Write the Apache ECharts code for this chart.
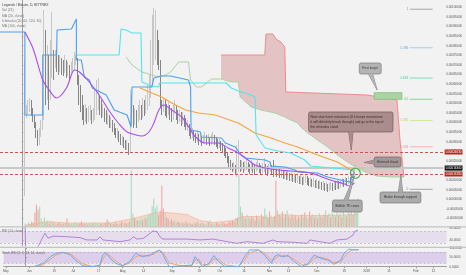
<!DOCTYPE html>
<html><head><meta charset="utf-8">
<script src="https://cdn.jsdelivr.net/npm/echarts@6/dist/echarts.min.js"></script>
<style>html,body{margin:0;padding:0;background:#f2f2f2;overflow:hidden}#c{width:466px;height:275px}</style>
</head><body><div id="c"></div>
<script>
// ---------- DATA (prices in satoshi = 1e-8 BTC; day 0 = 1 Jun 2017) ----------
const firstDay = 2;
const firstOpen = 38000;
const closes = [
43900,45470,47550,50150,46510,42340,38690,33490,29320,33490,
37130,42340,77750,56920,64730,54320,67340,72550,69940,73590,
71500,69420,70980,68380,67340,69420,66300,67340,65260,68380,
69940,72550,73590,64730,54320,51720,46510,43380,45470,42340,
44420,45470,42340,43900,46510,49110,52760,47550,45470,46510,
43380,41300,42340,39220,40260,37130,35050,33490,34530,31920,
30360,30880,29320,27760,28280,25680,42340,45470,41300,43380,
41300,43900,45470,43900,47550,46510,49630,51720,53800,62130,
72550,80360,82960,75150,71500,49110,47550,49630,46510,45470,
47550,44950,42860,45470,47550,44420,42340,43380,41300,42340,
40260,38170,38690,35050,33490,34530,32450,30880,31920,30360,
31400,29840,30880,31920,30360,31400,29840,30880,31920,30360,
29320,28280,28800,27240,25680,24630,22550,20470,18380,16820,
15260,16300,14220,15260,17860,16300,17340,15780,16820,17860,
16300,15260,16820,15780,14740,16300,17340,15780,14740,15780,
16820,15260,14220,15260,16300,14740,13700,14740,13700,14220,
12660,13180,12130,12660,11610,12130,11090,11610,10570,11090,
10050,10570,9530,10050,9010,9530,10570,9530,8490,9010,
7970,8490,7450,7970,6930,7450,6410,6930,5890,6410,
5360,5890,6410,5890,6930,6410,7450,6930,7970,9010,
8490,9530,9010,10050,9530,11090,12660,16300];
const highs = [
72550,49110,51720,52760,51720,47550,43900,40260,36090,37130,
41300,46510,98590,88170,80360,75150,82960,97550,77750,77750,
77750,75150,75150,73590,72550,75150,72550,71500,69940,71500,
73590,76710,75150,73590,64730,59530,54320,49110,49630,47550,
48590,49110,46510,47550,56920,62130,63170,54320,51720,49630,
47550,46510,44950,43900,42860,41300,39740,37130,37130,35570,
34010,32970,32450,30880,30880,29320,56920,54320,49110,47550,
46510,49110,51720,49110,52760,51720,54320,59530,64730,82960,
95980,99630,98590,88170,82960,72550,51720,52760,51720,49630,
50670,49110,47550,49110,51720,48590,46510,46510,45470,45470,
43900,42340,41300,39220,37130,37130,35570,34530,36090,34010,
34530,32970,33490,35050,33490,34010,32450,34010,35050,33490,
32450,31400,31400,30360,29320,27760,26720,24630,22550,20470,
18910,19430,17860,28280,30880,20470,20470,19430,19950,21510,
19430,18380,20470,18910,17860,19430,20470,18910,17860,18910,
21510,18380,17340,18380,19430,17860,20470,17860,16820,16820,
15780,15780,15260,15260,14220,14740,13700,14220,13180,13700,
12660,13180,12130,12660,11610,12130,13180,12130,11090,11610,
10570,11090,10050,10570,9530,10050,9010,9530,8490,9010,
7970,8490,9010,8490,9530,9010,10050,9530,10570,11090,
10570,11610,11090,12130,11610,13700,15260,17860];
const lows = [
1720,42340,43900,45470,43380,40260,37130,31920,27760,28280,
32450,36090,41300,49110,51720,46510,51720,63170,62130,68380,
66300,64730,66300,64730,64210,65780,63170,64210,62130,64730,
66300,67340,69940,59530,49110,45470,41300,38690,40260,39220,
40260,41300,39220,40260,41300,43900,46510,43900,42340,42860,
40260,39220,38690,37130,37130,35050,33490,31920,30880,29840,
28280,27760,26720,25680,25680,23070,24630,38690,37130,38690,
37130,40260,41300,41300,42340,43380,44420,46510,48590,52760,
59530,69940,72550,69940,67340,47550,43900,45470,43380,42340,
43900,41300,40260,41300,44420,41300,39220,40260,38170,39220,
37650,36090,35570,32970,31400,31920,30360,29320,29840,28280,
29320,27760,28800,29320,28280,28800,27760,28280,29840,28280,
27240,26200,26720,25150,24110,22550,21510,18910,16820,15260,
14220,14740,13180,11610,14220,14220,14740,13700,14740,15260,
14220,13180,14740,13700,12660,14220,15260,13700,12660,13700,
14220,13180,12130,13180,14220,12660,11610,12660,11610,12130,
11090,11090,10570,10570,10050,10050,9530,9530,9010,9010,
8490,8490,7970,7970,7450,7450,8490,7450,6930,6930,
6410,6410,5890,5890,5360,5360,4840,4840,4320,4320,
3800,4320,4840,4320,4840,4840,5360,5360,5890,6930,
6410,7450,6930,7970,7450,8490,10050,11610];
const volumes = [
3,2,4,3,5,4,14,22,17,20,8,5,9,
4,6,3,5,3,4,2,3,4,3,2,3,3,8,
3,2,3,2,4,3,2,3,5,3,2,3,
2,3,2,3,2,4,3,2,3,2,3,4,7,5,3,
3,2,4,3,2,3,5,3,4,3,4,5,56,
13,9,7,6,6,8,6,9,8,10,12,13,20,28,18,21,12,16,41,
18,14,9,8,6,7,5,6,4,5,4,
3,4,3,5,3,4,3,2,4,3,5,3,
3,4,3,2,3,4,6,3,2,3,4,3,
2,3,4,3,2,3,5,4,6,5,8,9,52,
20,14,10,8,12,9,7,10,8,6,11,9,7,12,10,18,12,9,15,11,8,10,46,
16,12,10,15,9,12,16,10,8,12,9,11,7,10,8,12,9,14,10,8,15,10,12,9,11,8,13,10,9,12,16,11,13,9,17,12,10,14,11,13,9,15,12,10,14,13,16,12,18,15,28];
const volMa = [[1.9,1],[16.2,5],[28,3.5],[54.8,3.5],[69.1,8],[84,14],[90.2,14],[102.7,12],[110.8,6],[118.9,4],[131.3,6],[137.5,10],[148.1,10],[154.3,8],[160.6,12],[173,11],[191.7,11],[209.1,12]];
const ma20 = [[1.9,87130],[6.9,78800],[13.1,62130],[16.2,57970],[21.8,52760],[28.0,57970],[33.0,67340],[36.1,66300],[42.3,61090],[48.5,54320],[54.8,45990],[61.0,39220],[66.0,35050],[71.6,33490],[75.3,32970],[79.7,35050],[82.8,39740],[85.9,46510],[89.0,49110],[94.0,46510],[100.2,42860],[104.6,37650],[108.9,32450],[115.1,29320],[123.2,29320],[129.4,26720],[135.7,24110],[141.9,20470],[146.2,17860],[152.5,16300],[160.6,15260],[168.6,14740],[181.1,13700],[193.5,10050],[202.3,7970],[205.4,6930],[208.5,8490]];
const ma100 = [[74.1,57970],[81.5,55360],[87.7,53280],[94.0,50150],[102.7,46510],[110.8,44950],[121.3,43900],[135.7,39740],[146.2,34530],[156.2,31920],[164.9,29320],[173.0,27240],[185.4,23070],[197.9,19430],[208.5,14220]];
const tenkan = [[-13.7,87130],[1.9,87130],[1.9,43900],[13.1,43900],[13.1,75150],[21.8,75150],[22.1,88170],[31.1,88690],[34.2,93900],[34.2,72550],[37.3,72550],[39.2,63690],[42.3,62130],[44.2,57970],[52.9,54320],[57.9,46510],[66.0,43900],[68.5,37650],[69.1,37650],[69.1,58490],[81.5,58490],[82.8,63170],[87.1,64210],[93.3,64210],[94.0,63170],[104.5,62130],[105.8,58490],[106.1,36090],[112.0,35050],[112.6,32450],[125.1,31920],[127.6,29320],[133.8,27240],[137.5,23070],[140.0,21510],[152.5,20470],[155.6,19430],[156.2,17340],[164.9,16820],[171.1,15260],[173.0,14220],[185.4,13700],[191.7,11610],[199.8,10050],[205.4,9010],[207.2,11610],[208.5,14220]];
const kijun = [[34.2,75150],[61.0,75150],[62.2,88690],[65.3,88170],[69.1,86610],[74.7,86610],[75.3,61090],[81.5,59010],[85.9,58490],[86.2,60570],[128.2,60570],[131.3,57970],[135.7,56400],[143.8,54320],[146.2,53280],[146.9,33490],[152.5,26720],[160.6,25150],[168.6,24110],[177.4,20470],[181.1,17340],[208.5,15260]];
const senkouB = [[65.3,74110],[69.1,69940],[75.3,66300],[81.5,64730],[85.9,63690],[90.2,64730],[93.3,66300],[98.3,71500],[104.5,71500],[105.8,62130],[109.5,58490],[112.6,58490],[118.9,62650],[124.9,62650],[131.3,61090],[135.7,61090],[136.9,53280],[143.8,48070],[150.0,46510],[158.7,44950],[164.9,42860],[168.6,41300],[173.0,39740],[174.9,37650],[179.2,34530],[185.4,30880],[191.7,27240],[197.9,23070],[204.1,19430],[210.3,16300],[216.6,13700],[222.8,12130],[232.1,11610],[239.6,11610]];
const senkouA = [[124.9,75150],[152.3,75150],[153.1,86090],[157.4,86090],[159.3,83490],[162.4,81930],[164.9,79320],[165.5,55880],[216.6,54320],[235.2,51720],[237.1,30880],[239.6,11610]];
const rsi = [[1.9,100],[2.3,0],[5,4],[8,9],[10,17],[13.1,51],[14.3,63],[16.2,46],[19.3,53],[28,51],[36.1,48],[40.4,40],[46.7,40],[48.5,51],[50.4,40],[61,34],[67.2,40],[69.1,51],[71.6,43],[75.3,45],[78.4,57],[81.5,71],[84,68],[85.9,51],[87.7,43],[102.7,43],[110.8,40],[118.9,43],[127.6,34],[133.8,28.5],[140,34],[150,28.5],[156.2,40],[158.7,34],[168.6,32],[177.4,28.5],[179.2,40],[185.4,34],[191.7,28.5],[196,40],[202.3,43],[206,57],[207.2,70],[209.1,74]];
const stochK = [[5,0],[11.2,18],[15.6,54],[19.3,73],[23.6,78],[28,65],[31.7,33],[36.1,5],[42.3,0],[46.7,9],[48.5,65],[50.4,78],[52.9,47],[56.6,18],[61,5],[65.3,27],[69.1,73],[73.4,54],[77.8,63],[81.5,81],[84,91],[85.9,73],[89,18],[90.2,0],[98.3,5],[104.5,9],[106.4,54],[108.9,27],[110.8,0],[115.1,18],[118.2,60],[121.3,27],[125.1,0],[133.8,0],[137.5,54],[140.6,91],[146.2,91],[150,63],[154.3,18],[156.2,54],[158.7,67],[160.6,54],[164.9,60],[168.6,27],[173,0],[177.4,18],[181.1,63],[185.4,45],[189.8,36],[193.5,13],[197.9,36],[199.8,72],[202.9,96],[206,91],[209.1,91]];
const stochD = [[5,0],[11.2,10],[15.6,40],[19.3,64],[23.6,77],[28,72],[31.7,45],[36.1,15],[42.3,2],[46.7,5],[48.5,40],[50.4,68],[52.9,62],[56.6,30],[61,8],[65.3,18],[69.1,55],[73.4,62],[77.8,58],[81.5,74],[84,86],[85.9,82],[89,40],[90.2,20],[98.3,4],[104.5,6],[106.4,35],[108.9,40],[110.8,12],[115.1,10],[118.2,42],[121.3,40],[125.1,10],[133.8,0],[137.5,35],[140.6,75],[146.2,90],[150,75],[154.3,35],[156.2,40],[158.7,58],[160.6,60],[164.9,58],[168.6,40],[173,10],[177.4,10],[181.1,45],[185.4,52],[189.8,40],[193.5,22],[197.9,25],[199.8,50],[202.9,82],[206,93],[209.1,92]];
const fibLevels = [1, 0.786, 0.618, 0.5, 0.382, 0.236, 0];
const fibNames = ['1','0.786','0.618','0.5','0.382','0.236','0'];
const fibLow = 5200, fibHigh = 99000, fibStartDay = 243.3, fibEndDay = 257.6;
const targetBox = [[220.9,55520],[238.3,52080]];
const resistanceLevel = 24630, supportLevel = 13180, lastPrice = 16300;
const priceTicks = [100000,95000,90000,85000,80000,75000,70000,65000,60000,55000,50000,45000,40000,35000,30000,25000,20000,15000,10000,5000,0,-5000,-10000];
const tickDays = [-12.3,2.5,18,30,46,61,74,92,109,122,137,153,165,183,200,214,228,245,256];
const tickNames = ['May','Jun','19','Jul','17','Aug','14','Sep','18','Oct','16','Nov','13','Dec','18','2018','15','Feb','12'];

// ---------- CHART ----------
const FONT = '"Liberation Sans", Arial, sans-serif';
const X_MIN = -13.69, X_MAX = 264.17;
const fibLine = ['#a6a6a6','#a9cbe6','#7fdcbc','#8fd18f','#d2e89a','#f2b0b0','#a6a6a6'];
const fibText = ['#8d8d8d','#5fa8e0','#3fcf98','#5cbf5c','#b3d36a','#ee8e8e','#8d8d8d'];
const fmtPrice = v => (v/1e8).toFixed(8);

const opens = closes.map((c,i)=> i===0 ? firstOpen : closes[i-1]);
const candleData = closes.map((c,i)=>[firstDay+i, opens[i], c, lows[i], highs[i]]);
const volData = volumes.map((v,i)=>({value:[firstDay+i, v], itemStyle:{color: closes[i]>=opens[i] ? '#a9dcc0' : '#f2a6a2'}}));
const cloudPoly = senkouA.concat(senkouB.filter(p=>p[0]>=124.9).reverse());

const chart = echarts.init(document.getElementById('c'), null, {renderer:'canvas', width:466, height:275});
const xAx = (gi, show) => ({type:'value', gridIndex:gi, min:X_MIN, max:X_MAX, show:show, splitLine:{show:false}});
const lbl = {fontSize:3, color:'#555', fontFamily:FONT, margin:3};
const option = {
  animation:false,
  backgroundColor:'#f2f2f2',
  grid:[
    {left:0, right:19.5, top:0, height:226.5},
    {left:0, right:19.5, top:146.5, height:80},
    {left:0, right:19.5, top:227, height:19},
    {left:0, right:19.5, top:248.3, height:18.4}
  ],
  xAxis:[
    xAx(0,false), xAx(1,false), xAx(2,false),
    Object.assign(xAx(3,true), {
      axisLine:{lineStyle:{color:'#9e9e9e', width:1}},
      axisTick:{show:true, length:1.5, customValues:tickDays, lineStyle:{color:'#9e9e9e'}},
      axisLabel:Object.assign({}, lbl, {margin:3, customValues:tickDays, hideOverlap:false,
        formatter:v=>{const i=tickDays.findIndex(t=>Math.abs(t-v)<1e-6); return i>=0?tickNames[i]:'';}})
    })
  ],
  yAxis:[
    {type:'value', gridIndex:0, position:'right', min:-14170, max:103800, splitLine:{show:false},
     axisLine:{show:true, lineStyle:{color:'#9e9e9e'}},
     axisTick:{show:true, length:1.5, customValues:priceTicks, lineStyle:{color:'#9e9e9e'}},
     axisLabel:Object.assign({}, lbl, {customValues:priceTicks, formatter:fmtPrice})},
    {type:'value', gridIndex:1, min:0, max:80, show:false, splitLine:{show:false}},
    {type:'value', gridIndex:2, position:'right', min:19.3, max:84.27, splitLine:{show:false},
     axisLine:{show:true, lineStyle:{color:'#9e9e9e'}},
     axisTick:{show:true, length:1.5, customValues:[40,80], lineStyle:{color:'#9e9e9e'}},
     axisLabel:Object.assign({}, lbl, {customValues:[40,80], formatter:v=>v.toFixed(4)})},
    {type:'value', gridIndex:3, position:'right', min:0, max:100, splitLine:{show:false},
     axisLine:{show:true, lineStyle:{color:'#9e9e9e'}},
     axisTick:{show:true, length:1.5, customValues:[0,50,100], lineStyle:{color:'#9e9e9e'}},
     axisLabel:Object.assign({}, lbl, {customValues:[0,50,100], formatter:v=>v.toFixed(4)})}
  ],
  series:[
    {type:'custom', xAxisIndex:0, yAxisIndex:0, z:1, silent:true, data:[senkouA[0]],
     renderItem:(p,api)=>({type:'polygon', shape:{points:cloudPoly.map(q=>api.coord(q))}, style:{fill:'rgba(200,110,110,0.35)'}})},
    {type:'bar', xAxisIndex:1, yAxisIndex:1, z:2, barWidth:1.1, data:volData, silent:true},
    {type:'line', xAxisIndex:1, yAxisIndex:1, z:2, data:volMa, symbol:'none', silent:true,
     lineStyle:{color:'#f2b08f', width:0.6}, areaStyle:{color:'rgba(245,160,120,0.45)'}},
    {type:'candlestick', xAxisIndex:0, yAxisIndex:0, z:3, barWidth:1.2, data:candleData,
     encode:{x:0, y:[1,2,3,4]}, silent:true,
     itemStyle:{color:'#d2d2d2', color0:'#3a3a3a', borderColor:'#a9a9a9', borderColor0:'#3a3a3a', borderWidth:0.6},
     markLine:{symbol:['none','none'], silent:true, animation:false, precision:8,
      data:[
        {yAxis:resistanceLevel, lineStyle:{color:'#c9564f', type:[3,2], width:1.1},
         label:{show:true, position:'end', distance:1.5, formatter:fmtPrice(resistanceLevel), backgroundColor:'#b3261e', color:'#fff', fontSize:3, fontFamily:FONT, padding:[1,1]}},
        {yAxis:lastPrice, lineStyle:{color:'#c8c8c8', type:'solid', width:2},
         label:{show:true, position:'end', distance:1.5, formatter:fmtPrice(lastPrice), backgroundColor:'#111', color:'#fff', fontSize:3, fontFamily:FONT, padding:[1,1]}},
        {yAxis:supportLevel, lineStyle:{color:'#c9564f', type:[3,2], width:1.1},
         label:{show:true, position:'end', distance:1.5, formatter:fmtPrice(supportLevel), backgroundColor:'#b3261e', color:'#fff', fontSize:3, fontFamily:FONT, padding:[1,1]}}
      ]}},
    {type:'line', xAxisIndex:0, yAxisIndex:0, z:4, data:senkouB, symbol:'none', silent:true, lineStyle:{color:'#a9d3a3', width:1}},
    {type:'line', xAxisIndex:0, yAxisIndex:0, z:4, data:senkouA, symbol:'none', silent:true, lineStyle:{color:'#ee8c8c', width:1}},
    {type:'line', xAxisIndex:0, yAxisIndex:0, z:5, data:ma100, symbol:'none', silent:true, lineStyle:{color:'#f5a53a', width:1.1}},
    {type:'line', xAxisIndex:0, yAxisIndex:0, z:5, data:kijun, symbol:'none', silent:true, lineStyle:{color:'#55e3ee', width:1.1}},
    {type:'line', xAxisIndex:0, yAxisIndex:0, z:5, data:tenkan, symbol:'none', silent:true, lineStyle:{color:'#4aa0f0', width:1.1}},
    {type:'line', xAxisIndex:0, yAxisIndex:0, z:5, data:ma20, symbol:'none', silent:true, smooth:0.3, lineStyle:{color:'#a94cf2', width:1.1}},
    {type:'custom', xAxisIndex:0, yAxisIndex:0, z:6, silent:true,
     data:fibLevels.map((f,i)=>[fibStartDay, fibLow + f*(fibHigh-fibLow)]),
     renderItem:(params, api)=>{
       const i = params.dataIndex, price = api.value(1);
       const p1 = api.coord([fibStartDay, price]), p2 = api.coord([fibEndDay, price]);
       return {type:'group', children:[
         {type:'line', shape:{x1:p1[0], y1:p1[1], x2:p2[0], y2:p2[1]}, style:{stroke:fibLine[i], lineWidth:1}},
         {type:'text', style:{text:fibNames[i], x:p1[0]-1.5, y:p1[1], fill:fibText[i], font:'3.2px '+FONT, align:'right', verticalAlign:'middle', textAlign:'right', textVerticalAlign:'middle'}}
       ]};
     }},
    {type:'custom', xAxisIndex:0, yAxisIndex:0, z:6, silent:true, data:[targetBox[0]],
     renderItem:(p,api)=>{const a=api.coord(targetBox[0]), b=api.coord(targetBox[1]);
       return {type:'rect', shape:{x:a[0], y:a[1], width:b[0]-a[0], height:b[1]-a[1]}, style:{fill:'#a8d5a2', stroke:'#86bd80', lineWidth:0.8}};}},
    {type:'line', xAxisIndex:2, yAxisIndex:2, z:5, data:rsi, symbol:'none', silent:true, lineStyle:{color:'#a66ad0', width:0.8},
     markArea:{silent:true, itemStyle:{color:'rgba(170,120,210,0.16)'}, data:[[{yAxis:30},{yAxis:70}]]},
     markLine:{symbol:['none','none'], silent:true, label:{show:false}, lineStyle:{color:'#b0a6b8', type:[2,2], width:0.6}, data:[{yAxis:70},{yAxis:30}]}},
    {type:'line', xAxisIndex:3, yAxisIndex:3, z:5, data:stochD, symbol:'none', silent:true, lineStyle:{color:'#f5a060', width:0.9},
     markArea:{silent:true, itemStyle:{color:'rgba(160,100,215,0.25)'}, data:[[{yAxis:20},{yAxis:80}]]},
     markLine:{symbol:['none','none'], silent:true, label:{show:false}, lineStyle:{color:'#a99bb8', type:[2,2], width:0.6}, data:[{yAxis:80},{yAxis:20}]}},
    {type:'line', xAxisIndex:3, yAxisIndex:3, z:6, data:stochK, symbol:'none', silent:true, lineStyle:{color:'#5aa8f2', width:0.9}}
  ]
};
chart.setOption(option);

// ---------- annotations (anchored in data coordinates) ----------
const callouts = [
  {box:[[211.6,70980],[225.3,65260]], tip:[222.8,56920], side:'bottom', at:0.5, fill:'#b4b4b4', stroke:'#7b7b7b', color:'#3a3a3a', align:'center', lines:['First target']},
  {box:[[179.8,45470],[232.7,35050]], tip:[206.6,25680], side:'bottom', at:0.5, fill:'#ab8c8c', stroke:'#6e5656', color:'#3c2c2c', align:'left',
   lines:['Next short term resistance (If it keeps momentum','it will definitely break through) and go to the top of','the ichimoku cloud']},
  {box:[[220.9,22030],[237.7,16820]], tip:[214.7,19170], side:'left', at:0.5, fill:'#a49696', stroke:'#6f6464', color:'#3a3030', align:'center', lines:['Entered cloud']},
  {box:[[194.8,-360],[213.4,-6610]], tip:[208.5,12130], side:'top', at:0.45, fill:'#ababab', stroke:'#777', color:'#333', align:'center', lines:['Bullish TK cross']},
  {box:[[224.6,3800],[250.2,-1930]], tip:[237.7,12660], side:'top', at:0.5, fill:'#ababab', stroke:'#777', color:'#333', align:'center', lines:['Broke through support']}
];
const circleAnchor = [209.1, 13540];
const px = p => chart.convertToPixel({xAxisIndex:0, yAxisIndex:0}, p);
const g = [];
callouts.forEach(a=>{
  const tl = px(a.box[0]), br = px(a.box[1]), tip = px(a.tip);
  const x = tl[0], y = tl[1], w = br[0]-tl[0], h = br[1]-tl[1];
  let b1, b2;
  if (a.side==='bottom'){const cx=x+w*a.at; b1=[cx-2.2,y+h-0.6]; b2=[cx+2.2,y+h-0.6];}
  else if (a.side==='top'){const cx=x+w*a.at; b1=[cx-2.2,y+0.6]; b2=[cx+2.2,y+0.6];}
  else {const cy=y+h*a.at; b1=[x+0.6,cy-2]; b2=[x+0.6,cy+2];}
  g.push({type:'polygon', z:100, shape:{points:[b1,tip,b2]}, style:{fill:a.fill, stroke:a.stroke, lineWidth:0.7}});
  g.push({type:'rect', z:101, shape:{x:x, y:y, width:w, height:h, r:1.8}, style:{fill:a.fill, stroke:a.stroke, lineWidth:0.7}});
  g.push({type:'polygon', z:102, shape:{points:[b1,tip,b2]}, style:{fill:a.fill}});
  const n = a.lines.length, lh = 4.6;
  a.lines.forEach((t,k)=>{
    const ty = y + h/2 + (k-(n-1)/2)*lh;
    g.push({type:'text', z:103, style:{text:t, x:a.align==='left'? x+2 : x+w/2, y:ty, fill:a.color, font:'3.3px '+FONT,
      align:a.align, verticalAlign:'middle', textAlign:a.align, textVerticalAlign:'middle'}});
  });
});
const cc = px(circleAnchor);
g.push({type:'circle', z:104, shape:{cx:cc[0], cy:cc[1], r:5}, style:{fill:'none', stroke:'#45a848', lineWidth:1.1}});
// pane separators
[226.8, 247.3].forEach(yy=>g.push({type:'line', z:90, shape:{x1:0, y1:yy, x2:466, y2:yy}, style:{stroke:'#c4c4c4', lineWidth:1.2}}));
// legend texts
const legendLines = [['Legends / Bitcoin, D, BITTREX','#3d3d3d'],['Vol (21)','#7a7a7a'],['MA (20, close)','#7a7a7a'],['Ichimoku (20, 60, 120, 30)','#7a7a7a'],['MA (100, close)','#7a7a7a']];
legendLines.forEach((l,k)=>g.push({type:'text', z:110, style:{text:l[0], x:2, y:5.3+k*5.2, fill:l[1], font:'3.4px '+FONT, align:'left', verticalAlign:'middle', textAlign:'left', textVerticalAlign:'middle'}}));
g.push({type:'text', z:110, style:{text:'RSI (14, close)', x:2, y:231.5, fill:'#666', font:'3.2px '+FONT, align:'left', verticalAlign:'middle', textAlign:'left', textVerticalAlign:'middle'}});
g.push({type:'text', z:110, style:{text:'Stoch RSI (3, 3, 14, 14, close)', x:2, y:253.5, fill:'#666', font:'3.2px '+FONT, align:'left', verticalAlign:'middle', textAlign:'left', textVerticalAlign:'middle'}});
chart.setOption({graphic:g});
</script>
</body></html>
